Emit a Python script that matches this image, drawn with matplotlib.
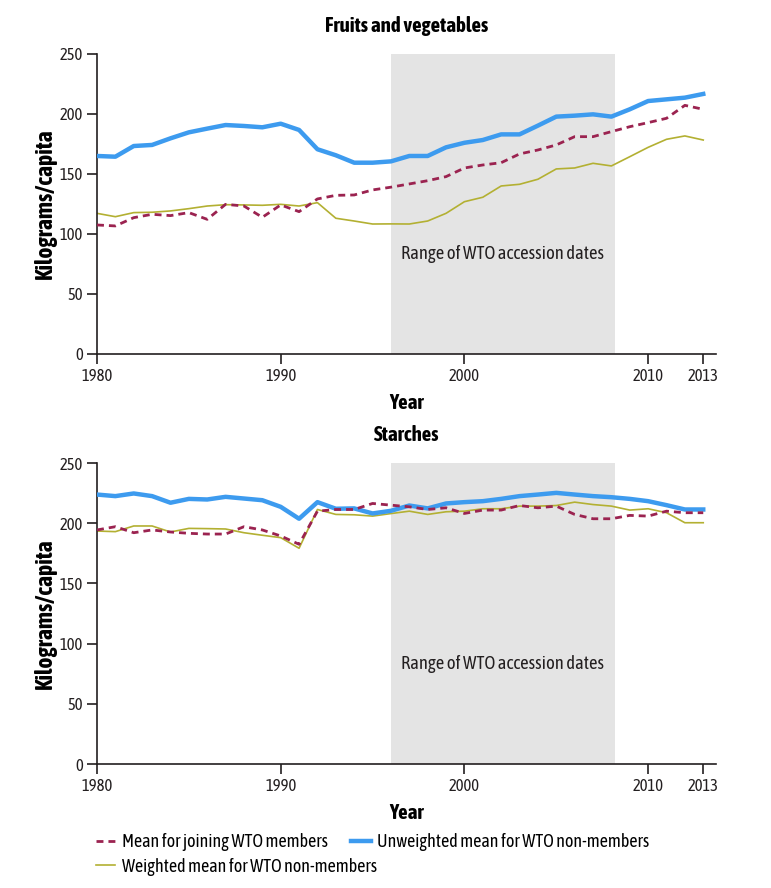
import matplotlib.pyplot as plt
import numpy as np

plt.rcParams["font.family"] = ["Asap Condensed", "Barlow Condensed", "DejaVu Sans"]

years = np.arange(1980, 2014)

# Fruits and vegetables (kg/capita)
fv_joining = [107.5, 106.7, 113.6, 116.4, 115.3, 117.8, 112.2, 124.7, 123.3, 113.9,
              124.2, 118.6, 129.2, 132.2, 132.5, 136.7, 139.0, 141.7, 144.4, 147.8,
              155.0, 157.5, 159.4, 166.7, 170.0, 174.2, 181.1, 181.1, 185.3, 189.4,
              192.8, 196.4, 207.2, 203.9]
fv_unweighted = [165.0, 164.4, 173.3, 174.2, 179.7, 184.7, 187.8, 190.8, 190.0, 188.9,
                 191.9, 186.7, 170.6, 165.6, 159.4, 159.4, 160.5, 165.0, 165.0, 172.2,
                 176.0, 178.3, 183.0, 183.0, 190.3, 197.8, 198.6, 199.7, 197.8, 203.9,
                 210.8, 212.2, 213.6, 216.7]
fv_weighted = [117.2, 114.4, 117.8, 118.1, 119.2, 121.1, 123.3, 124.4, 124.2, 123.9,
               124.7, 123.3, 126.1, 113.1, 110.8, 108.3, 108.4, 108.3, 110.8, 117.2,
               126.9, 130.6, 140.0, 141.4, 145.6, 154.2, 155.0, 158.9, 156.7, 164.4,
               172.2, 178.9, 181.7, 178.3]

# Starches (kg/capita)
st_joining = [194.4, 197.1, 192.1, 194.4, 192.7, 191.6, 191.0, 191.0, 197.1, 194.4,
              189.4, 182.5, 210.0, 211.4, 211.4, 216.4, 215.0, 213.6, 211.4, 212.8,
              208.1, 210.9, 210.9, 214.7, 212.8, 214.2, 207.3, 203.7, 203.7, 206.5,
              205.9, 210.0, 208.7, 208.7]
st_unweighted = [223.8, 222.5, 224.7, 222.5, 217.0, 220.2, 219.7, 221.9, 220.5, 219.1,
                 213.6, 203.7, 217.5, 212.0, 212.3, 208.1, 210.3, 214.7, 212.3, 216.4,
                 217.5, 218.3, 220.2, 222.5, 223.8, 225.2, 223.8, 222.5, 221.6, 220.2,
                 218.3, 215.0, 211.4, 211.4]
st_weighted = [193.5, 193.0, 197.7, 197.7, 192.7, 195.7, 195.5, 195.2, 192.1, 190.0,
               188.0, 179.2, 211.4, 207.3, 207.0, 205.9, 208.0, 210.0, 207.3, 209.5,
               210.0, 212.0, 212.0, 214.2, 214.2, 214.7, 217.5, 215.5, 214.2, 210.9,
               212.0, 208.7, 200.4, 200.4]

wto_start, wto_end = 1996, 2008.2
x_ticks = [1980, 1990, 2000, 2010, 2013]

BLUE = "#3d9bef"
RED = "#9b2350"
OLIVE = "#b3b032"
SHADE = "#e4e4e4"
INK = "#231f20"

fig = plt.figure(figsize=(7.71, 8.88), dpi=100)
ax1 = fig.add_axes([0.1258, 0.6014, 0.803, 0.3378])
ax2 = fig.add_axes([0.1258, 0.1396, 0.803, 0.339])


def draw_panel(ax, joining, unweighted, weighted, title):
    ax.axvspan(wto_start, wto_end, color=SHADE, lw=0, zorder=0)
    ax.text((wto_start + wto_end) / 2, 83, "Range of WTO accession dates",
            ha="center", va="center", fontsize=13.3, color=INK)
    ax.plot(years, unweighted, color=BLUE, lw=3.2, solid_joinstyle="round",
            label="Unweighted mean for WTO non-members", zorder=3)
    ax.plot(years, weighted, color=OLIVE, lw=1.2,
            label="Weighted mean for WTO non-members", zorder=2)
    ax.plot(years, joining, color=RED, lw=2.0, ls=(0, (2.5, 1.8)),
            label="Mean for joining WTO members", zorder=4)
    ax.set_xlim(1980, 2013.7)
    ax.set_ylim(0, 250)
    ax.set_xticks(x_ticks)
    ax.set_yticks(np.arange(0, 251, 50))
    ax.spines["top"].set_visible(False)
    ax.spines["right"].set_visible(False)
    for side in ("left", "bottom"):
        ax.spines[side].set_linewidth(1.2)
        ax.spines[side].set_color(INK)
    ax.tick_params(direction="out", length=7, width=1.2, labelsize=12,
                   colors=INK, pad=3)
    ax.set_title(title, fontsize=15, fontweight="bold", pad=16, color="black")
    ax.set_xlabel("Year", fontsize=15, fontweight="bold", labelpad=6)
    ax.set_ylabel("Kilograms/capita", fontsize=17, fontweight="bold", labelpad=2)


draw_panel(ax1, fv_joining, fv_unweighted, fv_weighted, "Fruits and vegetables")
draw_panel(ax2, st_joining, st_unweighted, st_weighted, "Starches")

# legend: two entries on the first row, one on the second
h, l = ax2.get_legend_handles_labels()
leg_style = dict(loc="upper left", frameon=False, fontsize=13, handlelength=1.1,
                 handletextpad=0.35, columnspacing=1.3, borderaxespad=0, borderpad=0)
leg1 = fig.legend([h[2], h[0]], [l[2], l[0]], ncol=2,
                  bbox_to_anchor=(0.124, 0.062), **leg_style)
fig.legend([h[1]], [l[1]], bbox_to_anchor=(0.124, 0.034), **leg_style)

fig.savefig("out.png", dpi=100)
